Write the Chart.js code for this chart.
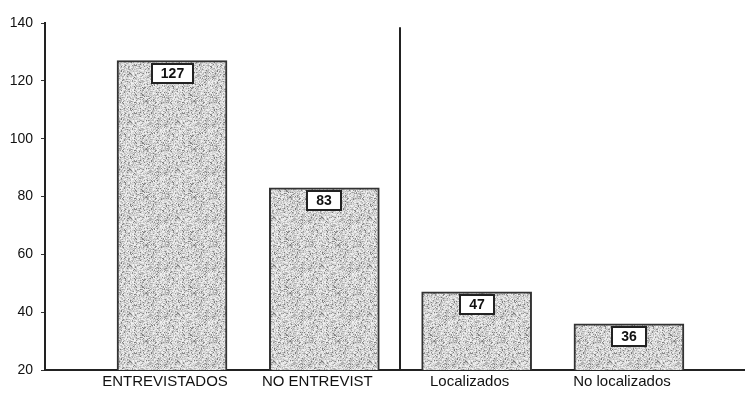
<!DOCTYPE html>
<html><head><meta charset="utf-8">
<script src="https://cdn.jsdelivr.net/npm/chart.js@4/dist/chart.umd.min.js"></script>
<style>html,body{margin:0;padding:0;background:#fff;}#wrap{width:745px;height:394px;position:relative;}canvas{display:block;}</style>
</head><body><div id="wrap"><canvas id="c" width="745" height="394"></canvas></div>
<script>
const categories = ['ENTREVISTADOS', 'NO ENTREVIST', 'Localizados', 'No localizados'];
const values = [127, 83, 47, 36];
const yTicks = [20, 40, 60, 80, 100, 120, 140];

const FONT = '"Liberation Sans", Arial, sans-serif';
const canvas = document.getElementById('c');
const ctx = canvas.getContext('2d');

function hash(x, y) {
  let h = (x * 374761393 + y * 668265263) | 0;
  h = Math.imul(h ^ (h >>> 13), 1274126177);
  h = h ^ (h >>> 16);
  return (h >>> 0) / 4294967295;
}
function makePattern() {
  const N = 48;
  const p = document.createElement('canvas'); p.width = N; p.height = N;
  const g = p.getContext('2d');
  const img = g.createImageData(N, N);
  for (let y = 0; y < N; y++) for (let x = 0; x < N; x++) {
    const r = hash(x, y);
    let v;
    if (r < 0.12) v = 120 + Math.floor(hash(y, x) * 50);
    else if (r < 0.35) v = 175 + Math.floor(hash(y + 7, x) * 25);
    else if (r < 0.8) v = 205 + Math.floor(hash(y, x + 7) * 25);
    else v = 240;
    const k = (y * N + x) * 4;
    img.data[k] = img.data[k + 1] = img.data[k + 2] = v; img.data[k + 3] = 255;
  }
  g.putImageData(img, 0, 0);
  return ctx.createPattern(p, 'repeat');
}

const extras = {
  id: 'extras',
  afterDatasetsDraw(chart) {
    const c = chart.ctx, xs = chart.scales.x, ys = chart.scales.y;
    c.save();
    const sx = Math.round(xs.getPixelForValue(1.5));
    c.strokeStyle = '#222'; c.lineWidth = 2;
    c.beginPath(); c.moveTo(sx, ys.getPixelForValue(138.5)); c.lineTo(sx, ys.bottom); c.stroke();
    c.font = 'bold 14px ' + FONT;
    c.textAlign = 'center'; c.textBaseline = 'middle';
    chart.getDatasetMeta(0).data.forEach((el, i) => {
      const txt = String(values[i]);
      const w = Math.round(c.measureText(txt).width + 18), h = 19;
      const x0 = Math.round(el.x - w / 2), y0 = Math.round(el.y + 3);
      c.fillStyle = '#fff'; c.fillRect(x0, y0, w, h);
      c.strokeStyle = '#222'; c.lineWidth = 2; c.strokeRect(x0, y0, w, h);
      c.fillStyle = '#111'; c.fillText(txt, x0 + w / 2, y0 + h / 2 + 1);
    });
    c.restore();
  }
};

new Chart(canvas, {
  type: 'bar',
  data: {
    datasets: [{
      data: values.map((v, i) => ({ x: i, y: v })),
      backgroundColor: makePattern(),
      borderColor: '#333',
      borderWidth: 2,
      barThickness: 110
    }]
  },
  options: {
    responsive: false,
    animation: false,
    devicePixelRatio: 1,
    layout: { padding: { top: 23, left: 0, right: 0, bottom: 0 } },
    plugins: { legend: { display: false }, tooltip: { enabled: false } },
    scales: {
      x: {
        type: 'linear', min: -0.834, max: 3.762, offset: false,
        afterBuildTicks: s => { s.ticks = categories.map((c, i) => ({ value: i })); },
        afterFit: s => { s.height = 24; },
        ticks: {
          callback: v => categories[v], autoSkip: false, maxRotation: 0,
          font: { family: FONT, size: 15 }, color: '#111', padding: 3, labelOffset: -7
        },
        grid: { display: false, tickLength: 0 },
        border: { display: true, color: '#222', width: 2 }
      },
      y: {
        min: 20, max: 140,
        afterBuildTicks: s => { s.ticks = yTicks.map(v => ({ value: v })); },
        afterFit: s => { s.width = 45; },
        ticks: { font: { family: FONT, size: 14 }, color: '#111', padding: 8 },
        grid: { drawOnChartArea: false, drawTicks: true, tickLength: 4, color: '#333' },
        border: { display: true, color: '#222', width: 2 }
      }
    }
  },
  plugins: [extras]
});
</script>
</body></html>
